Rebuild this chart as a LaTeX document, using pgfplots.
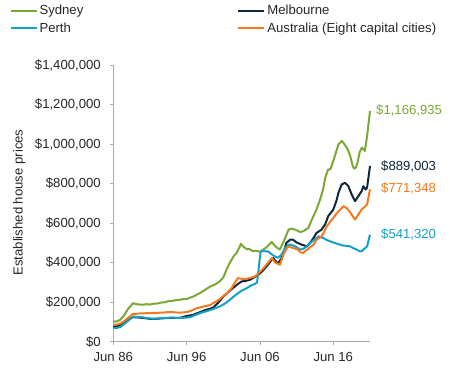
\documentclass[border=0pt]{standalone}
\usepackage{pgfplots}
\pgfplotsset{compat=1.18}
\usepackage{fontspec}
\setmainfont{Liberation Sans}
\definecolor{syd}{RGB}{122,168,52}
\definecolor{mel}{RGB}{16,38,58}
\definecolor{per}{RGB}{20,160,200}
\definecolor{aus}{RGB}{244,121,32}
\definecolor{axgray}{RGB}{170,170,170}
\definecolor{txt}{RGB}{38,38,38}
\newcommand{\f}{\fontsize{13.2}{15.5}\selectfont}
\begin{document}
\begin{tikzpicture}[font=\f]
\begin{axis}[
 at={(0,0)}, anchor=south west,
 scale only axis, width=256.7bp, height=276.7bp,
 xmin=1986.5, xmax=2021.5, ymin=0, ymax=1400,
 axis x line=bottom, axis y line=left,
 axis line style={-, draw=axgray, line width=0.8pt},
 xtick={1986.5,1996.5,2006.5,2016.5},
 xticklabels={Jun 86,Jun 96,Jun 06,Jun 16},
 ytick={0,200,400,600,800,1000,1200,1400},
 yticklabels={\$0,{\$200,000},{\$400,000},{\$600,000},{\$800,000},{\$1,000,000},{\$1,200,000},{\$1,400,000}},
 tick align=outside, major tick length=3bp,
 tick style={draw=axgray, line width=0.8pt},
 ticklabel style={font=\f, text=txt},
 yticklabel style={xshift=-6bp},
 xticklabel style={yshift=-4bp},
 ylabel={Established house prices},
 ylabel style={at={(axis description cs:-0.366,0.503)}, anchor=center, font=\f, text=txt},
 clip=false,
 legend columns=2,
 legend cell align=left,
 legend style={at={(axis description cs:-0.405,1.224)}, anchor=north west, draw=none, fill=none, inner sep=0pt, font=\f, text=txt, row sep=2.5bp, /tikz/every even column/.append style={column sep=152bp}},
 legend image code/.code={\draw[#1] (0bp,0bp) -- (26bp,0bp);},
 every axis plot/.append style={line width=2pt, line join=round},
]
\addplot[syd] table {
1986.5 101
1987.0 103
1987.5 112
1988.0 135
1988.5 165
1989.2 195
1989.6 190
1990.1 188
1990.6 187
1991.0 190
1991.5 188
1992.0 192
1992.5 193
1993.0 198
1993.5 199
1994.0 205
1994.5 206
1995.0 210
1995.5 212
1996.0 215
1996.5 216
1997.0 223
1997.5 230
1998.0 240
1998.5 250
1999.0 262
1999.7 279
2000.1 285
2000.5 292
2001.0 305
2001.5 325
2002.0 370
2002.4 400
2002.9 432
2003.3 449
2003.6 470
2003.9 495
2004.2 482
2004.7 468
2005.0 470
2005.5 458
2006.0 460
2006.5 455
2007.0 468
2007.4 478
2008.1 505
2008.6 482
2009.2 466
2009.7 505
2010.1 540
2010.4 567
2010.8 572
2011.3 567
2012.0 555
2012.4 559
2013.1 576
2013.5 612
2014.2 669
2014.7 720
2015.1 770
2015.4 830
2015.8 872
2016.1 872
2016.5 915
2017.0 975
2017.2 999
2017.65 1016
2018.1 995
2018.5 970
2018.8 940
2019.1 895
2019.3 876
2019.55 880
2019.8 906
2020.1 960
2020.4 982
2020.8 965
2021.1 1040
2021.5 1167
};
\addlegendentry{Sydney}
\addplot[mel] table {
1986.5 75
1987.0 78
1987.5 83
1988.0 95
1988.5 110
1989.2 125
1989.6 123
1990.1 122
1990.6 120
1991.0 118
1991.5 116
1992.0 115
1992.5 116
1993.0 118
1993.5 119
1994.0 120
1994.5 121
1995.0 120
1995.6 120
1996.0 125
1996.5 130
1997.0 133
1997.4 136
1998.0 145
1998.5 152
1999.0 160
1999.5 165
2000.1 172
2000.6 190
2001.0 205
2001.5 228
2002.0 245
2002.5 262
2003.1 280
2003.6 295
2004.0 305
2004.5 307
2005.1 313
2005.7 325
2006.3 339
2006.9 360
2007.4 381
2007.9 405
2008.3 423
2008.7 405
2009.0 398
2009.4 420
2009.7 450
2010.1 500
2010.6 516
2011.0 516
2011.5 502
2012.2 491
2012.9 482
2013.5 508
2013.8 525
2014.2 550
2014.9 567
2015.4 595
2015.8 635
2016.5 669
2016.9 710
2017.2 754
2017.65 796
2018.1 804
2018.55 787
2019.0 745
2019.46 711
2019.9 736
2020.37 762
2020.6 787
2020.9 770
2021.1 779
2021.5 889
};
\addlegendentry{Melbourne}
\addplot[per] table {
1986.5 68
1987.0 70
1987.5 75
1988.0 90
1988.5 105
1989.2 127
1989.6 126
1990.1 125
1990.6 123
1991.0 120
1991.5 118
1992.0 116
1992.5 117
1993.0 119
1993.5 120
1994.0 121
1994.5 122
1995.0 121
1995.6 121
1996.0 121
1996.5 122
1997.0 124
1997.5 132
1998.3 144
1999.0 152
1999.7 160
2000.1 165
2001.0 178
2001.5 188
2002.0 200
2002.9 228
2003.5 245
2004.0 258
2004.7 271
2005.3 285
2005.8 292
2006.1 300
2006.35 380
2006.6 457
2007.0 458
2007.6 457
2008.0 445
2008.3 437
2008.7 428
2009.0 425
2009.4 440
2009.7 457
2009.9 474
2010.4 491
2010.8 490
2011.3 482
2012.0 466
2012.4 470
2012.9 482
2013.4 500
2013.8 513
2014.5 533
2015.1 525
2015.6 515
2016.05 508
2016.5 502
2017.0 496
2017.5 490
2017.9 486
2018.4 485
2018.8 482
2019.3 472
2019.7 466
2020.1 457
2020.4 458
2020.6 466
2021.1 482
2021.5 541
};
\addlegendentry{Perth}
\addplot[aus] table {
1986.5 85
1987.0 87
1987.5 92
1988.0 105
1988.5 120
1989.2 141
1989.6 141
1990.1 143
1990.6 143
1991.0 145
1991.5 144
1992.0 145
1992.5 146
1993.0 147
1993.5 148
1994.0 150
1994.5 150
1995.0 148
1995.6 147
1996.0 148
1996.5 150
1997.0 155
1997.9 170
1998.5 175
1999.0 180
1999.7 185
2000.1 195
2000.6 205
2001.0 215
2002.0 246
2002.6 270
2003.1 300
2003.5 322
2004.0 318
2004.5 317
2005.1 322
2005.8 330
2006.4 350
2007.0 373
2007.5 395
2008.1 423
2008.6 400
2009.2 389
2009.7 440
2010.1 470
2010.4 482
2011.0 474
2011.7 466
2012.0 452
2012.4 449
2012.6 457
2013.1 470
2013.5 482
2013.8 491
2014.2 516
2014.9 533
2015.3 560
2015.6 584
2015.8 593
2016.5 627
2017.2 660
2017.9 686
2018.3 677
2018.7 660
2019.0 643
2019.46 618
2019.9 643
2020.37 669
2020.7 680
2021.1 694
2021.5 771
};
\addlegendentry{Australia (Eight capital cities)}
\node[anchor=west, inner sep=0pt, text=syd, xshift=6bp] at (axis cs:2021.5,1171) {\$1,166,935};
\node[anchor=west, inner sep=0pt, text=mel, xshift=11bp] at (axis cs:2021.5,889) {\$889,003};
\node[anchor=west, inner sep=0pt, text=aus, xshift=11bp] at (axis cs:2021.5,774) {\$771,348};
\node[anchor=west, inner sep=0pt, text=per, xshift=11bp] at (axis cs:2021.5,545) {\$541,320};
\end{axis}
\pgfresetboundingbox
\path[use as bounding box] (-113.3bp,-36.3bp) rectangle (336.7bp,341.7bp);
\end{tikzpicture}
\end{document}
